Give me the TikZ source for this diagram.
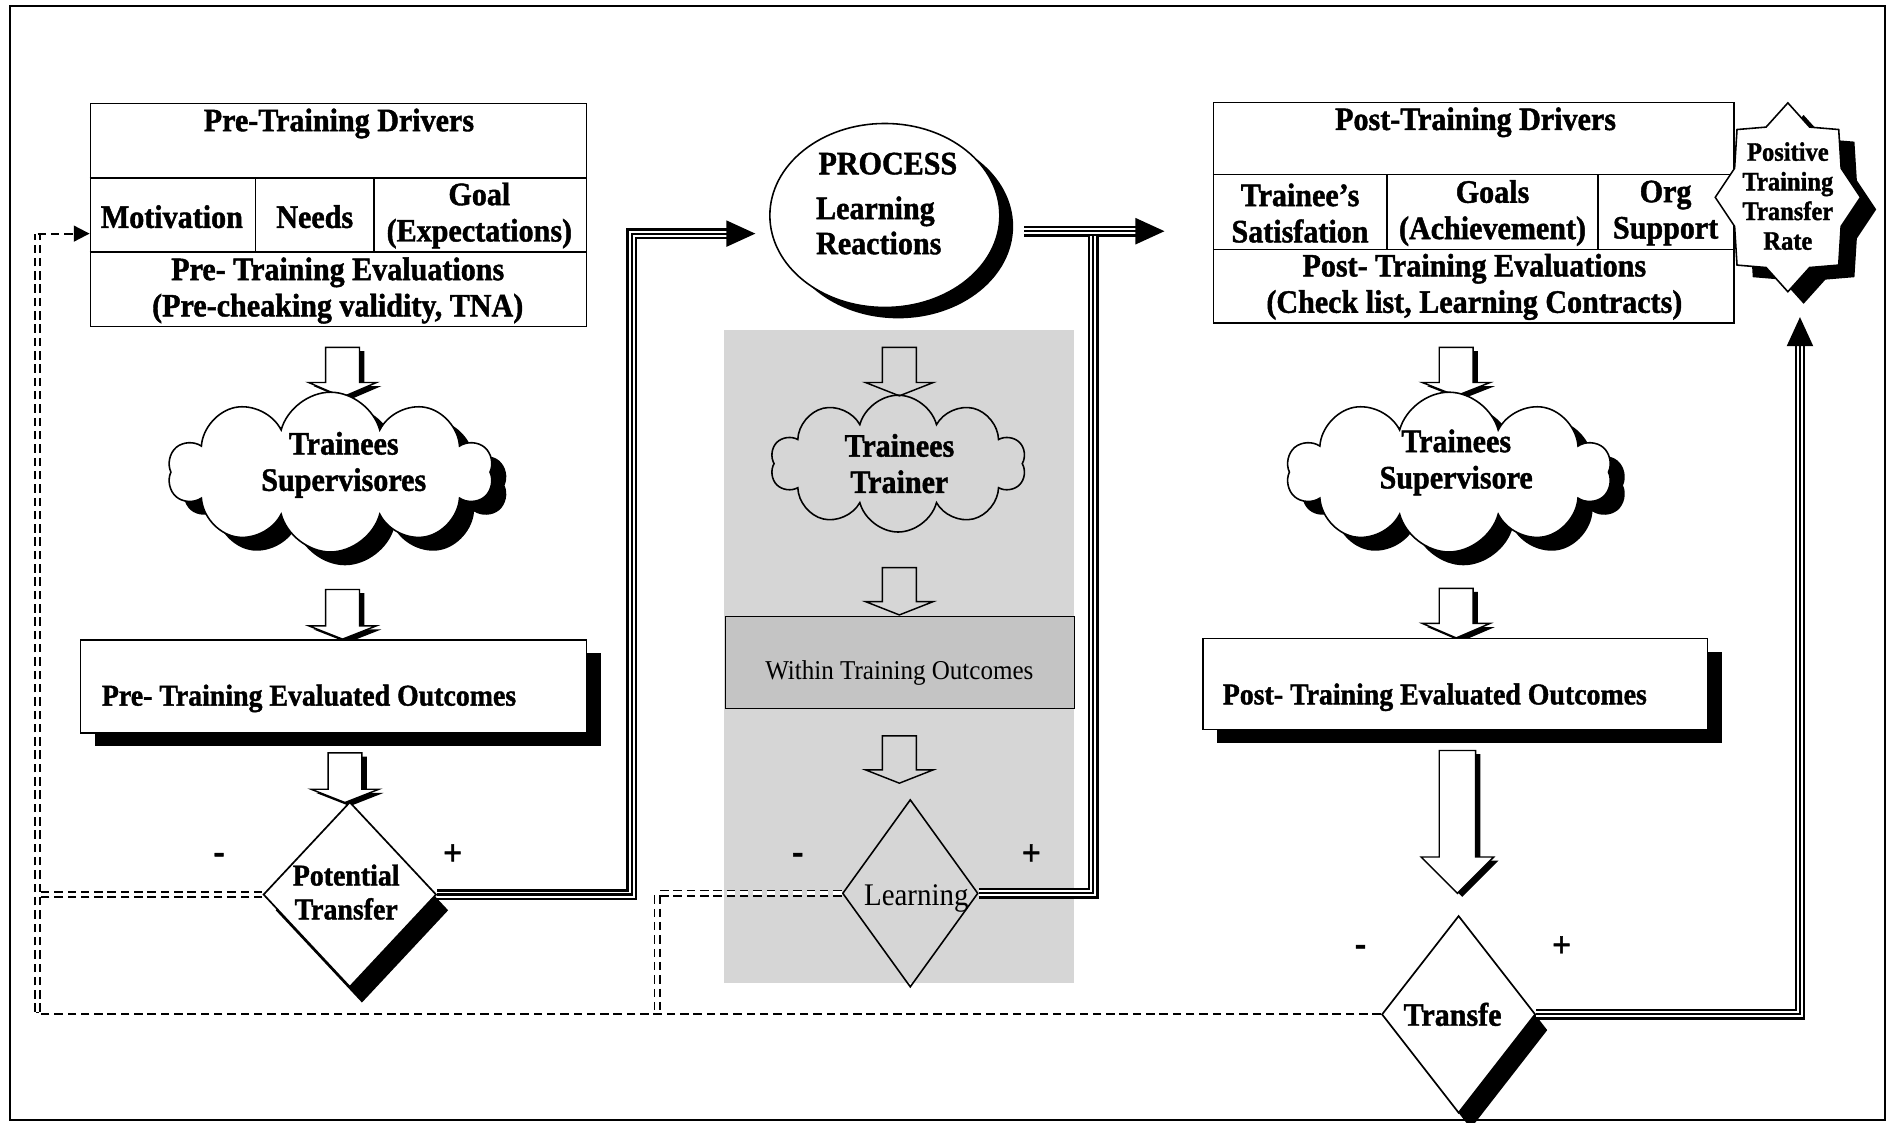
\documentclass[tikz,border=0pt]{standalone}
\usepackage{fontspec}
\setmainfont{Liberation Serif}[FakeStretch=0.92, BoldFeatures={FakeBold=1.3}]
\usetikzlibrary{shapes.geometric,shapes.symbols,shadows,arrows.meta}

\newcommand\blkarrow[6]{%
  \ifnum#6=1
    \fill[shift={(4,3)}] ({#1-#5},#2) -- ({#1+#5},#2) -- ({#1+#5},#3) -- ({#1+2*#5},#3) -- (#1,#4) -- ({#1-2*#5},#3) -- ({#1-#5},#3) -- cycle;
    \draw[line width=1.2pt, fill=white, line join=miter] ({#1-#5},#2) -- ({#1+#5},#2) -- ({#1+#5},#3) -- ({#1+2*#5},#3) -- (#1,#4) -- ({#1-2*#5},#3) -- ({#1-#5},#3) -- cycle;
  \else
    \draw[line width=1.2pt, line join=miter] ({#1-#5},#2) -- ({#1+#5},#2) -- ({#1+#5},#3) -- ({#1+2*#5},#3) -- (#1,#4) -- ({#1-2*#5},#3) -- ({#1-#5},#3) -- cycle;
  \fi}

\begin{document}
\begin{tikzpicture}[x=1pt,y=-1pt,
  big/.style={font=\bfseries\fontsize{27pt}{30pt}\selectfont, align=center, inner sep=0pt},
  mid/.style={font=\bfseries\fontsize{25pt}{28pt}\selectfont, align=center, inner sep=0pt},
  sml/.style={font=\bfseries\fontsize{22pt}{24.5pt}\selectfont, align=center, inner sep=0pt},
  reg/.style={font=\fontsize{22.5pt}{26pt}\selectfont, inner sep=0pt},
  sign/.style={font=\bfseries\fontsize{30pt}{30pt}\selectfont, inner sep=0pt},
  ln/.style={line width=1.3pt},
  tbl/.style={draw, line width=1.3pt, anchor=north west, inner sep=0pt},
  shadowed/.style={drop shadow={shadow xshift=12pt, shadow yshift=-11pt, opacity=1, fill=black}},
  dshadow/.style={drop shadow={shadow xshift=10pt, shadow yshift=-13pt, opacity=1, fill=black}},
  cshadow/.style={drop shadow={shadow xshift=11pt, shadow yshift=-9pt, opacity=1, fill=black}},
  triple/.style={draw=white, line width=5pt, line join=miter,
     preaction={draw=black, line width=9pt, line join=miter},
     postaction={draw=black, line width=1.8pt}},
  ddash/.style={draw, line width=1.4pt, double, double distance=3.2pt, dash pattern=on 7pt off 4pt},
  sdash/.style={draw, line width=1.7pt, dash pattern=on 7pt off 4pt},
  cloudy/.style={cloud, cloud puffs=10, cloud ignores aspect, draw, line width=1.3pt, inner sep=0pt},
]
\useasboundingbox (0,0) rectangle (1568,927);
\fill[white] (0,0) rectangle (1568,927);
\draw[line width=1.5pt] (8,5) rectangle (1557,925);

% gray process region
\fill[black!16] (598,273) rectangle (887,812);

% ---------- Pre-training table ----------
\node[tbl, minimum width=410, minimum height=184] (preT) at (74,85) {};
\draw[ln] (74,147) -- (484,147);
\draw[ln] (74,208) -- (484,208);
\draw[ln] (211,147) -- (211,208);
\draw[ln] (309,147) -- (309,208);
\node[big] (preTitle) at (280,102) {Pre-Training Drivers};
\node[big] (mot) at (142,179) {Motivation};
\node[big] (needs) at (260,179) {Needs};
\node[big] (goal) at (396,178) {Goal\\(Expectations)};
\node[big] (preEval) at (279,240) {Pre- Training Evaluations\\(Pre-cheaking validity, TNA)};

% ---------- Post-training table ----------
\node[tbl, minimum width=430, minimum height=182] (postT) at (1002,84) {};
\draw[ln] (1002,144) -- (1432,144);
\draw[ln] (1002,206) -- (1432,206);
\draw[ln] (1146,144) -- (1146,206);
\draw[ln] (1320,144) -- (1320,206);
\node[big] (postTitle) at (1219,101) {Post-Training Drivers};
\node[big] (sat) at (1074,176) {Trainee’s\\Satisfation};
\node[big] (goals) at (1233,176) {Goals\\(Achievement)};
\node[big] (org) at (1376,176) {Org\\Support};
\node[big] (postEval) at (1218,237) {Post- Training Evaluations\\(Check list, Learning Contracts)};

% ---------- Star ----------
\coordinate (sc) at (1477,163);
\begin{scope}[shift={(1490,173)}]
\fill (60,0) -- (44,24) -- (42,56) -- (18,58) -- (0,78) -- (-18,58) -- (-42,56) -- (-44,24) -- (-60,0) -- (-44,-24) -- (-42,-56) -- (-18,-58) -- (0,-78) -- (18,-58) -- (42,-56) -- (44,-24) -- cycle;
\end{scope}
\begin{scope}[shift={(1477,163)}]
\draw[fill=white, line width=1.3pt] (60,0) -- (44,24) -- (42,56) -- (18,58) -- (0,78) -- (-18,58) -- (-42,56) -- (-44,24) -- (-60,0) -- (-44,-24) -- (-42,-56) -- (-18,-58) -- (0,-78) -- (18,-58) -- (42,-56) -- (44,-24) -- cycle;
\end{scope}
\node[sml] (startxt) at (1477,162) {Positive\\Training\\Transfer\\Rate};

% ---------- PROCESS circle ----------
\node[ellipse, draw, line width=1.3pt, fill=white, minimum width=190, minimum height=152, cshadow] (proc) at (731,178) {};
\node[big, anchor=base west] (pr1) at (676,144) {PROCESS};
\node[big, anchor=base west] (pr2) at (674,181) {Learning};
\node[big, anchor=base west] (pr3) at (674,210) {Reactions};

% ---------- Left column ----------
\blkarrow{283}{287}{316}{328}{14}{1}
\node[cloudy, fill=white, minimum width=268, minimum height=132, shadowed] (cloudL) at (273,390) {};
\node[big] (cloudLt) at (284,384) {Trainees\\Supervisores};
\blkarrow{283}{487}{517}{528}{14}{1}
\node[tbl, fill=white, minimum width=418, minimum height=77, shadowed] (preO) at (66,528) {};
\node[mid, anchor=west] (preOt) at (84,577) {Pre- Training Evaluated Outcomes};
\blkarrow{285}{622}{652}{663}{14}{1}
\node[diamond, draw, line width=1.4pt, fill=white, minimum width=143, minimum height=153, inner sep=0pt, dshadow] (pt) at (289,739) {};
\node[mid] (ptt) at (286,737) {Potential\\Transfer};
\node[sign] (ptm) at (181,709) {-};
\node[sign] (ptp) at (374,706) {+};

% ---------- Middle column ----------
\blkarrow{743}{287}{316}{327}{14}{0}
\node[cloudy, minimum width=211, minimum height=113] (cloudM) at (742,383) {};
\node[big] (cloudMt) at (743,383) {Trainees\\Trainer};
\blkarrow{743}{469}{497}{508}{14}{0}
\node[tbl, line width=0.8pt, fill=black!23, minimum width=288, minimum height=76] (within) at (599,509) {};
\node[reg] (withint) at (743,556) {Within Training Outcomes};
\blkarrow{743}{608}{636}{647}{14}{0}
\node[diamond, draw, line width=1.3pt, minimum width=112, minimum height=155, inner sep=0pt] (learn) at (752,738) {};
\node[reg, font=\fontsize{26pt}{28pt}\selectfont] (learnt) at (757,742) {Learning};
\node[sign] (lm) at (659,709) {-};
\node[sign] (lp) at (852,706) {+};

% ---------- Right column ----------
\blkarrow{1203}{287}{316}{327}{14}{1}
\node[cloudy, fill=white, minimum width=268, minimum height=132, shadowed] (cloudR) at (1197,390) {};
\node[big] (cloudRt) at (1203,382) {Trainees\\Supervisore};
\blkarrow{1203}{486}{515}{527}{14}{1}
\node[tbl, fill=white, minimum width=417, minimum height=75, shadowed] (postO) at (993,527) {};
\node[mid, anchor=west] (postOt) at (1010,576) {Post- Training Evaluated Outcomes};
\blkarrow{1204}{620}{708}{738}{15}{1}
\node[diamond, draw, line width=1.4pt, fill=white, minimum width=127, minimum height=163, inner sep=0pt, dshadow] (tr) at (1205,838) {};
\node[big] (trt) at (1200,838) {Transfe};
\node[sign] (tm) at (1124,785) {-};
\node[sign] (tp) at (1290,782) {+};

% ---------- triple connectors ----------
\coordinate (c1e) at (624,193);
\draw[triple] (pt.east) -- (522,739) -- (522,193) -- (602,193);
\fill (c1e) -- (600,182) -- (600,204) -- cycle;

\coordinate (c2s) at (846,191);
\coordinate (c2e) at (962,191);
\draw[triple] (c2s) -- (940,191);
\fill (c2e) -- (938,180) -- (938,202) -- cycle;
\draw[triple] (learn.east) -- (903,738) -- (903,195);

\coordinate (c3e) at (1487,262);
\draw[triple] (tr.east) -- (1487,838) -- (1487,284);
\fill (c3e) -- (1476,286) -- (1498,286) -- cycle;

% ---------- dashed feedback ----------
\coordinate (lb) at (31,836);
\coordinate (lt) at (31,193);
\coordinate (arrL) at (74,193);
\draw[sdash] (tr.west) -- (tr.west -| lb) -- (lb);
\draw[ddash] (lb) -- (lt);
\draw[ddash] (pt.west) -- (31,739);
\draw[sdash, -{Triangle[length=13pt,width=13pt]}] (lt) -- (arrL);
\draw[ddash] (learn.west) -- (543,738) -- (543,838);
\end{tikzpicture}
\end{document}
